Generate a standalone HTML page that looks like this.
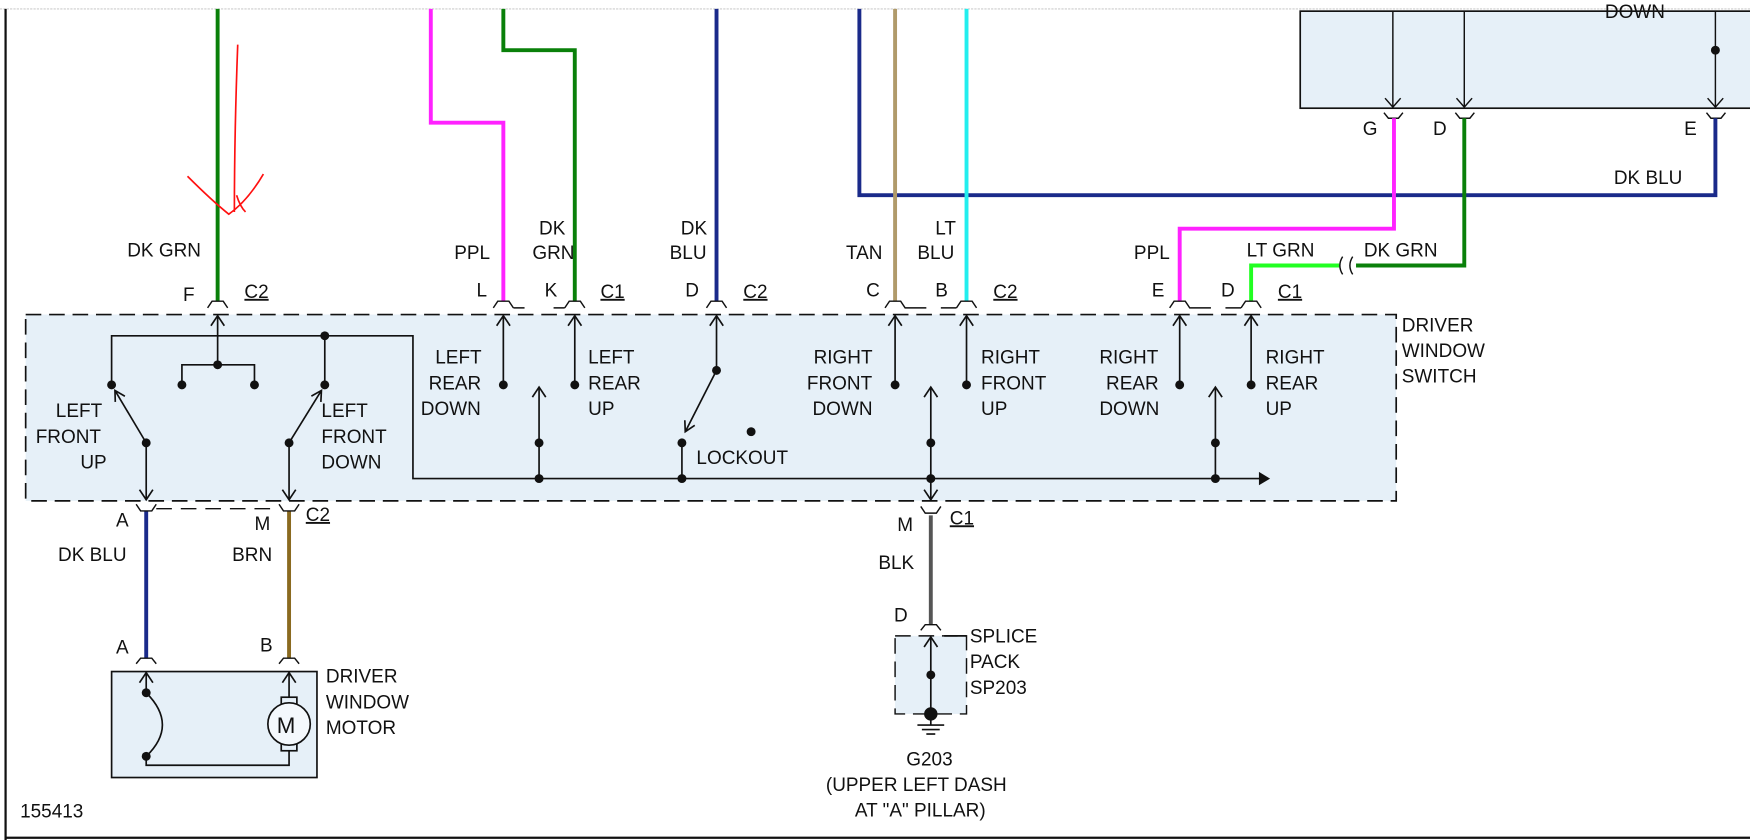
<!DOCTYPE html>
<html><head><meta charset="utf-8"><style>
html,body{margin:0;padding:0;background:#fff;overflow:hidden}
svg{display:block}
text{font-family:"Liberation Sans",Arial,sans-serif;font-size:17px;fill:#111}
</style></head><body>
<svg width="1750" height="840" viewBox="0 0 1568 753" preserveAspectRatio="none" xmlns="http://www.w3.org/2000/svg">
<rect width="1568" height="753" fill="#fff"/>
<line x1="0" y1="8" x2="1568" y2="8" stroke="#ccc" stroke-width="1" stroke-dasharray="2,1"/>
<line x1="5" y1="8" x2="5" y2="753" stroke="#111" stroke-width="2"/>
<line x1="5" y1="751" x2="1568" y2="751" stroke="#111" stroke-width="2"/>

<!-- top-right box -->
<rect x="1165" y="10" width="410" height="87" fill="#e6f0f8" stroke="#111" stroke-width="1.5"/>
<text x="1438" y="16">DOWN</text>
<g stroke="#111" stroke-width="1.3" fill="none">
<line x1="1248" y1="10" x2="1248" y2="96"/><path d="M1241,88 L1248,96 L1255,88"/>
<line x1="1312" y1="10" x2="1312" y2="96"/><path d="M1305,88 L1312,96 L1319,88"/>
<line x1="1537" y1="10" x2="1537" y2="96"/><path d="M1530,88 L1537,96 L1544,88"/>
</g>
<circle cx="1537" cy="45" r="4" fill="#111"/>
<g stroke="#111" stroke-width="1.3" fill="none">
<path d="M1240,101 L1244,106 L1253,106 L1257,101"/>
<path d="M1304,101 L1308,106 L1317,106 L1321,101"/>
<path d="M1529,101 L1533,106 L1542,106 L1546,101"/>
</g>
<text x="1221" y="121">G</text><text x="1284" y="121">D</text><text x="1509" y="121">E</text>

<!-- wires -->
<g fill="none" stroke-width="3.5">
<polyline points="195,8 195,270" stroke="#0a800a"/>
<polyline points="386,8 386,110 451,110 451,270" stroke="#ff22ff"/>
<polyline points="451,8 451,45 515,45 515,270" stroke="#0a800a"/>
<polyline points="642,8 642,270" stroke="#1a2a8a"/>
<polyline points="770,8 770,175 1537,175 1537,106" stroke="#1a2a8a"/>
<polyline points="802,8 802,270" stroke="#b09a6a"/>
<polyline points="866,8 866,270" stroke="#22eeee"/>
<polyline points="1249,106 1249,205 1057,205 1057,270" stroke="#ff22ff"/>
<polyline points="1312,106 1312,238 1215,238" stroke="#0a800a"/>
<polyline points="1200,238 1121,238 1121,270" stroke="#22ff22"/>
<polyline points="131,458 131,590" stroke="#1a2a8a"/>
<polyline points="259,458 259,590" stroke="#8a6a20"/>
<polyline points="834,462 834,560" stroke="#555"/>
</g>
<path d="M1203,230 Q1198,238 1203,246 M1212,230 Q1207,238 1212,246" fill="none" stroke="#111" stroke-width="1.3"/>
<!-- red scribble -->
<path d="M213,40 Q210,120 210,190 M168,158 Q190,180 205,192 Q222,180 236,156 M212,175 Q215,185 220,190" fill="none" stroke="#ff1010" stroke-width="1.5"/>

<!-- wire labels -->
<text x="114" y="230">DK GRN</text>
<text x="407" y="232">PPL</text>
<text x="483" y="210">DK</text><text x="477" y="232">GRN</text>
<text x="610" y="210">DK</text><text x="600" y="232">BLU</text>
<text x="758" y="232">TAN</text>
<text x="838" y="210">LT</text><text x="822" y="232">BLU</text>
<text x="1016" y="232">PPL</text>
<text x="1117" y="230">LT GRN</text>
<text x="1222" y="230">DK GRN</text>
<text x="1446" y="165">DK BLU</text>

<!-- top connectors -->
<g stroke="#111" stroke-width="1.3" fill="none">
<path d="M186,276 L190,270 L200,270 L204,276"/>
<path d="M442,276 L446,270 L456,270 L460,276 M460,276 L470,276"/>
<path d="M506,276 L510,270 L520,270 L524,276 M496,276 L506,276"/>
<path d="M633,276 L637,270 L647,270 L651,276"/>
<path d="M793,276 L797,270 L807,270 L811,276 L830,276"/>
<path d="M857,276 L861,270 L871,270 L875,276 M843,276 L857,276"/>
<path d="M1048,276 L1052,270 L1062,270 L1066,276 L1085,276"/>
<path d="M1112,276 L1116,270 L1126,270 L1130,276 M1098,276 L1112,276"/>
</g>
<text x="164" y="270">F</text><text x="219" y="267" text-decoration="underline">C2</text>
<text x="427" y="266">L</text><text x="488" y="266">K</text><text x="538" y="267" text-decoration="underline">C1</text>
<text x="614" y="266">D</text><text x="666" y="267" text-decoration="underline">C2</text>
<text x="776" y="266">C</text><text x="838" y="266">B</text><text x="890" y="267" text-decoration="underline">C2</text>
<text x="1032" y="266">E</text><text x="1094" y="266">D</text><text x="1145" y="267" text-decoration="underline">C1</text>

<!-- switch box -->
<rect x="23" y="282" width="1228" height="167" fill="#e6f0f8" stroke="#111" stroke-width="1.5" stroke-dasharray="14,7"/>
<text x="1256" y="297">DRIVER</text><text x="1256" y="320">WINDOW</text><text x="1256" y="343">SWITCH</text>

<g stroke="#111" stroke-width="1.5" fill="none">
<line x1="195" y1="283" x2="195" y2="327"/>
<line x1="451" y1="283" x2="451" y2="345"/>
<line x1="515" y1="283" x2="515" y2="345"/>
<line x1="642" y1="283" x2="642" y2="332"/>
<line x1="802" y1="283" x2="802" y2="345"/>
<line x1="866" y1="283" x2="866" y2="345"/>
<line x1="1057" y1="283" x2="1057" y2="345"/>
<line x1="1121" y1="283" x2="1121" y2="345"/>
<path d="M189,292 L195,283 L201,292 M445,292 L451,283 L457,292 M509,292 L515,283 L521,292 M636,292 L642,283 L648,292 M796,292 L802,283 L808,292 M860,292 L866,283 L872,292 M1051,292 L1057,283 L1063,292 M1115,292 L1121,283 L1127,292"/>
<polyline points="163,345 163,327 228,327 228,345"/>
<polyline points="100,345 100,301 370,301 370,429 1135,429"/>
<line x1="291" y1="301" x2="291" y2="345"/>
<line x1="131" y1="397" x2="103" y2="350"/>
<path d="M111.9,355.2 L103,350 L103.3,360.3"/>
<line x1="131" y1="397" x2="131" y2="448"/>
<line x1="259" y1="397" x2="288" y2="350"/>
<path d="M287.5,360.3 L288,350 L279,355.1"/>
<line x1="259" y1="397" x2="259" y2="448"/>
<line x1="483" y1="429" x2="483" y2="347"/>
<line x1="834" y1="429" x2="834" y2="347"/>
<line x1="834" y1="429" x2="834" y2="448"/>
<line x1="1089" y1="429" x2="1089" y2="347"/>
<path d="M477,356 L483,347 L489,356 M828,356 L834,347 L840,356 M1083,356 L1089,347 L1095,356"/>
<path d="M125,439 L131,448 L137,439 M253,439 L259,448 L265,439 M828,439 L834,448 L840,439"/>
<line x1="611" y1="429" x2="611" y2="397"/>
<line x1="642" y1="332" x2="614" y2="387"/>
<path d="M622.5,381.3 L614,387 L613.6,376.7"/>
</g>
<path d="M1128,423 L1138,429 L1128,435 Z" fill="#111"/>
<g fill="#111">
<circle cx="100" cy="345" r="4"/><circle cx="163" cy="345" r="4"/><circle cx="228" cy="345" r="4"/>
<circle cx="195" cy="327" r="4"/><circle cx="291" cy="345" r="4"/><circle cx="291" cy="301" r="4"/>
<circle cx="131" cy="397" r="4"/><circle cx="259" cy="397" r="4"/>
<circle cx="451" cy="345" r="4"/><circle cx="515" cy="345" r="4"/>
<circle cx="483" cy="397" r="4"/><circle cx="483" cy="429" r="4"/>
<circle cx="642" cy="332" r="4"/><circle cx="611" cy="397" r="4"/><circle cx="611" cy="429" r="4"/><circle cx="673" cy="387" r="4"/>
<circle cx="802" cy="345" r="4"/><circle cx="866" cy="345" r="4"/>
<circle cx="834" cy="397" r="4"/><circle cx="834" cy="429" r="4"/>
<circle cx="1057" cy="345" r="4"/><circle cx="1121" cy="345" r="4"/>
<circle cx="1089" cy="397" r="4"/><circle cx="1089" cy="429" r="4"/>
</g>
<text x="50" y="374">LEFT</text><text x="32" y="397">FRONT</text><text x="72" y="420">UP</text>
<text x="288" y="374">LEFT</text><text x="288" y="397">FRONT</text><text x="288" y="420">DOWN</text>
<text x="390" y="326">LEFT</text><text x="384" y="349">REAR</text><text x="377" y="372">DOWN</text>
<text x="527" y="326">LEFT</text><text x="527" y="349">REAR</text><text x="527" y="372">UP</text>
<text x="624" y="416">LOCKOUT</text>
<text x="729" y="326">RIGHT</text><text x="723" y="349">FRONT</text><text x="728" y="372">DOWN</text>
<text x="879" y="326">RIGHT</text><text x="879" y="349">FRONT</text><text x="879" y="372">UP</text>
<text x="985" y="326">RIGHT</text><text x="991" y="349">REAR</text><text x="985" y="372">DOWN</text>
<text x="1134" y="326">RIGHT</text><text x="1134" y="349">REAR</text><text x="1134" y="372">UP</text>

<!-- bottom connectors -->
<g stroke="#111" stroke-width="1.3" fill="none">
<path d="M122,452 L126,458 L136,458 L140,452"/>
<path d="M250,452 L254,458 L264,458 L268,452"/>
<line x1="140" y1="456" x2="250" y2="456" stroke-dasharray="14,8"/>
<path d="M825,454 L829,460 L839,460 L843,454"/>
<path d="M122,595 L126,590 L136,590 L140,595"/>
<path d="M250,595 L254,590 L264,590 L268,595"/>
<path d="M825,565 L829,560 L839,560 L843,565"/>
</g>
<text x="104" y="472">A</text><text x="228" y="475">M</text><text x="274" y="467" text-decoration="underline">C2</text>
<text x="52" y="503">DK BLU</text><text x="208" y="503">BRN</text>
<text x="804" y="476">M</text><text x="851" y="470" text-decoration="underline">C1</text>
<text x="787" y="510">BLK</text>
<text x="104" y="586">A</text><text x="233" y="584">B</text>
<text x="801" y="557">D</text>

<!-- motor -->
<rect x="100" y="602" width="184" height="95" fill="#e6f0f8" stroke="#111" stroke-width="1.5"/>
<g stroke="#111" stroke-width="1.5" fill="none">
<line x1="131" y1="603" x2="131" y2="621"/>
<line x1="259" y1="603" x2="259" y2="625"/>
<path d="M125,612 L131,603 L137,612 M253,612 L259,603 L265,612"/>
<path d="M131,621 Q160,650 131,678"/>
<polyline points="131,678 131,686 259,686 259,673"/>
<rect x="252" y="625" width="14" height="12"/>
<rect x="252" y="661" width="14" height="12"/>
<circle cx="259" cy="649" r="19" fill="#f4f8fc"/>
</g>
<circle cx="131" cy="621" r="4" fill="#111"/><circle cx="131" cy="678" r="4" fill="#111"/>
<text x="248" y="657" style="font-size:20px">M</text>
<text x="292" y="612">DRIVER</text><text x="292" y="635">WINDOW</text><text x="292" y="658">MOTOR</text>

<!-- splice pack -->
<rect x="802" y="570" width="64" height="70" fill="#e6f0f8" stroke="#111" stroke-width="1.3" stroke-dasharray="14,7"/>
<g stroke="#111" stroke-width="1.5" fill="none">
<line x1="834" y1="571" x2="834" y2="650"/>
<path d="M828,580 L834,571 L840,580"/>
<line x1="846" y1="570" x2="866" y2="570"/>
<line x1="822" y1="650" x2="846" y2="650"/>
<line x1="826" y1="654" x2="842" y2="654"/>
<line x1="830" y1="658" x2="838" y2="658"/>
</g>
<circle cx="834" cy="605" r="4" fill="#111"/><circle cx="834" cy="640" r="6" fill="#111"/>
<text x="869" y="576">SPLICE</text><text x="869" y="599">PACK</text><text x="869" y="622">SP203</text>
<text x="812" y="686">G203</text>
<text x="740" y="709">(UPPER LEFT DASH</text>
<text x="766" y="732">AT "A" PILLAR)</text>
<text x="18" y="733">155413</text>
</svg>
</body></html>
